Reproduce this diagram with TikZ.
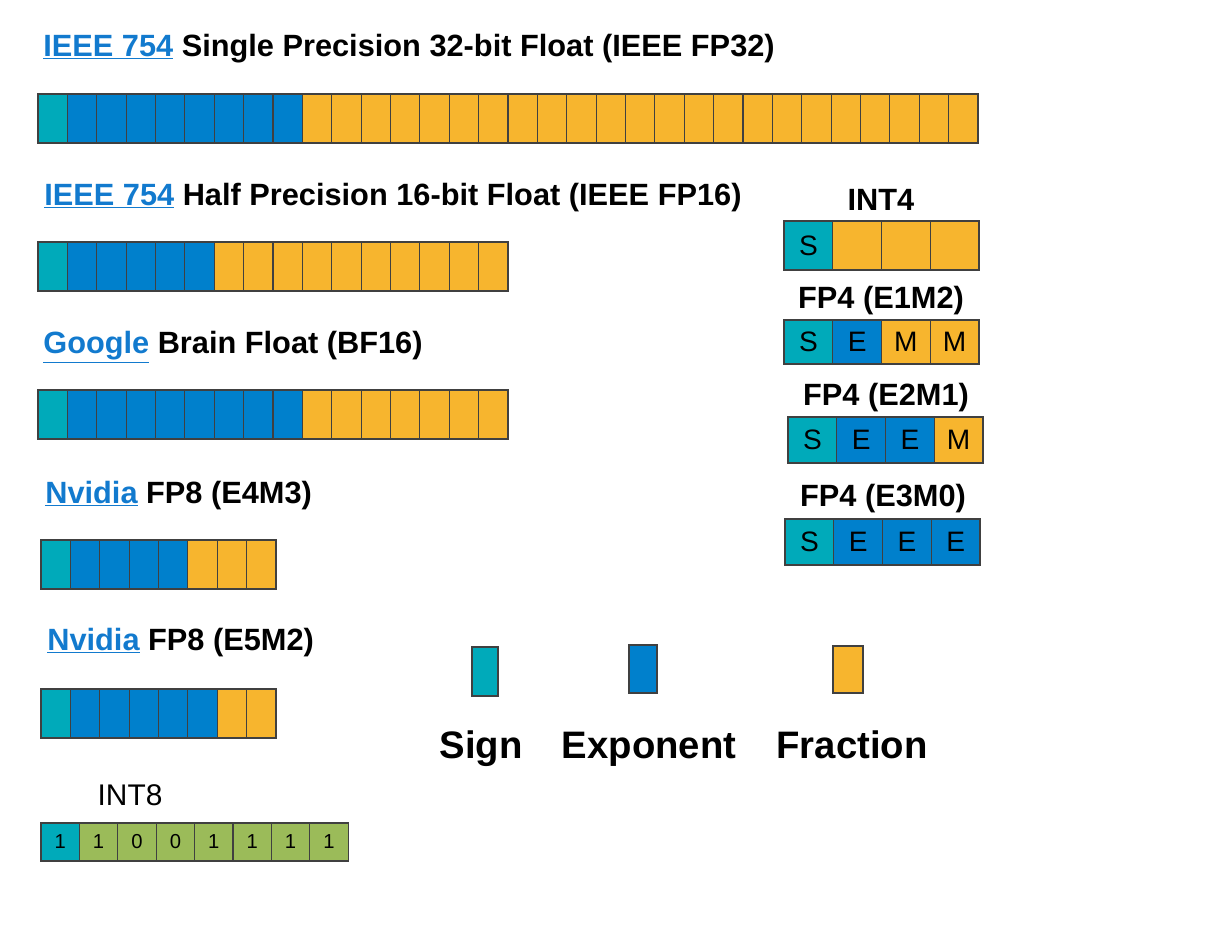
\documentclass[tikz,border=0pt]{standalone}
\usepackage{fontspec}
\setmainfont{Liberation Sans}
\definecolor{signc}{RGB}{0,170,186}
\definecolor{expc}{RGB}{0,128,204}
\definecolor{fracc}{RGB}{247,181,46}
\definecolor{intc}{RGB}{155,187,89}
\definecolor{linkc}{RGB}{18,122,206}
\newcommand{\weblink}[1]{{\color{linkc}\underline{#1}}}
% one row of bits: name, x, y, exponent bits, fraction bits
\newcommand{\bitrow}[5]{%
	\node[bit, fill=signc] (#1-0)at(#2, #3) {};
	\foreach \i in {1,...,#4} \node[bit, fill=expc] (#1-\i)at({#2+\i*29.375}, #3) {};
	\foreach \i in {1,...,#5} {\pgfmathtruncatemacro\j{\i+#4}
		\node[bit, fill=fracc] (#1-\j)at({#2+\j*29.375}, #3) {};}
}

\begin{document}
\begin{tikzpicture}[x=0.02cm, y=-0.02cm,
	bit/.style={draw=black!75, line width=0.6pt, rectangle, anchor=north west, inner sep=0pt, outer sep=0pt, minimum width=0.5875cm, minimum height=0.98cm},
	quad/.style={draw=black!75, line width=0.6pt, rectangle, anchor=north west, inner sep=0pt, outer sep=0pt, minimum width=0.975cm, font=\fontsize{16}{18}\selectfont},
	octet/.style={draw=black!75, line width=0.6pt, rectangle, anchor=north west, inner sep=0pt, outer sep=0pt, minimum width=0.768cm, minimum height=0.76cm, fill=intc, font=\fontsize{11.5}{13}\selectfont},
	title/.style={anchor=base west, inner sep=0pt, font=\bfseries\fontsize{17.5}{20}\selectfont},
	small title/.style={anchor=base, inner sep=0pt, font=\bfseries\fontsize{17.5}{20}\selectfont},
	swatch/.style={draw=black!75, line width=0.6pt, rectangle, anchor=north west, inner sep=0pt, outer sep=0pt},
	legend/.style={anchor=base, inner sep=0pt, font=\bfseries\fontsize{21.8}{24}\selectfont}]
				\useasboundingbox (0, 0) rectangle (1218, 941);
				% float formats
				\node[title] (tFP32)at(43, 56) {\weblink{IEEE 754} Single Precision 32-bit Float (IEEE FP32)};
				\bitrow{fp32}{38}{94}{8}{23}
				\node[title] (tFP16)at(44, 205) {\weblink{IEEE 754} Half Precision 16-bit Float (IEEE FP16)};
				\bitrow{fp16}{38}{242}{5}{10}
				\node[title] (tBF16)at(43, 353) {\weblink{Google} Brain Float (BF16)};
				\bitrow{bf16}{38}{390}{8}{7}
				\node[title] (tE4M3)at(45, 503) {\weblink{Nvidia} FP8 (E4M3)};
				\bitrow{e4m3}{41}{540}{4}{3}
				\node[title] (tE5M2)at(47, 650) {\weblink{Nvidia} FP8 (E5M2)};
				\bitrow{e5m2}{41}{689}{5}{2}
				% 4-bit formats
				\node[small title] (tINT4)at(881, 210) {INT4};
				\node[quad, minimum height=0.98cm, fill=signc] (int4-0)at(784, 221) {S};
				\node[quad, minimum height=0.98cm, fill=fracc] (int4-1)at(832.75, 221) {};
				\node[quad, minimum height=0.98cm, fill=fracc] (int4-2)at(881.5, 221) {};
				\node[quad, minimum height=0.98cm, fill=fracc] (int4-3)at(930.25, 221) {};
				\node[small title] (tE1M2)at(881, 308) {FP4 (E1M2)};
				\node[quad, minimum height=0.88cm, fill=signc] (e1m2-0)at(784, 320) {S};
				\node[quad, minimum height=0.88cm, fill=expc] (e1m2-1)at(832.75, 320) {E};
				\node[quad, minimum height=0.88cm, fill=fracc] (e1m2-2)at(881.5, 320) {M};
				\node[quad, minimum height=0.88cm, fill=fracc] (e1m2-3)at(930.25, 320) {M};
				\node[small title] (tE2M1)at(886, 405) {FP4 (E2M1)};
				\node[quad, minimum height=0.92cm, fill=signc] (e2m1-0)at(788, 417) {S};
				\node[quad, minimum height=0.92cm, fill=expc] (e2m1-1)at(836.75, 417) {E};
				\node[quad, minimum height=0.92cm, fill=expc] (e2m1-2)at(885.5, 417) {E};
				\node[quad, minimum height=0.92cm, fill=fracc] (e2m1-3)at(934.25, 417) {M};
				\node[small title] (tE3M0)at(883, 506) {FP4 (E3M0)};
				\node[quad, minimum height=0.92cm, fill=signc] (e3m0-0)at(785, 519) {S};
				\node[quad, minimum height=0.92cm, fill=expc] (e3m0-1)at(833.75, 519) {E};
				\node[quad, minimum height=0.92cm, fill=expc] (e3m0-2)at(882.5, 519) {E};
				\node[quad, minimum height=0.92cm, fill=expc] (e3m0-3)at(931.25, 519) {E};
				% INT8
				\node[anchor=base, inner sep=0pt, font=\fontsize{17}{20}\selectfont] (tINT8)at(130, 805) {INT8};
				\node[octet, fill=signc] (int8-0)at(41, 823) {1};
				\foreach \b [count=\k] in {1,0,0,1,1,1,1}
					\node[octet] (int8-\k)at({41+\k*38.4}, 823) {\b};
				% legend
				\node[swatch, fill=signc, minimum width=0.52cm, minimum height=0.98cm] (kSign)at(472, 647) {};
				\node[swatch, fill=expc, minimum width=0.56cm, minimum height=0.96cm] (kExp)at(629, 645) {};
				\node[swatch, fill=fracc, minimum width=0.6cm, minimum height=0.94cm] (kFrac)at(833, 646) {};
				\node[legend] (lSign)at(481, 758) {Sign};
				\node[legend] (lExp)at(649, 758) {Exponent};
				\node[legend] (lFrac)at(852, 758) {Fraction};
			\end{tikzpicture}
\end{document}
